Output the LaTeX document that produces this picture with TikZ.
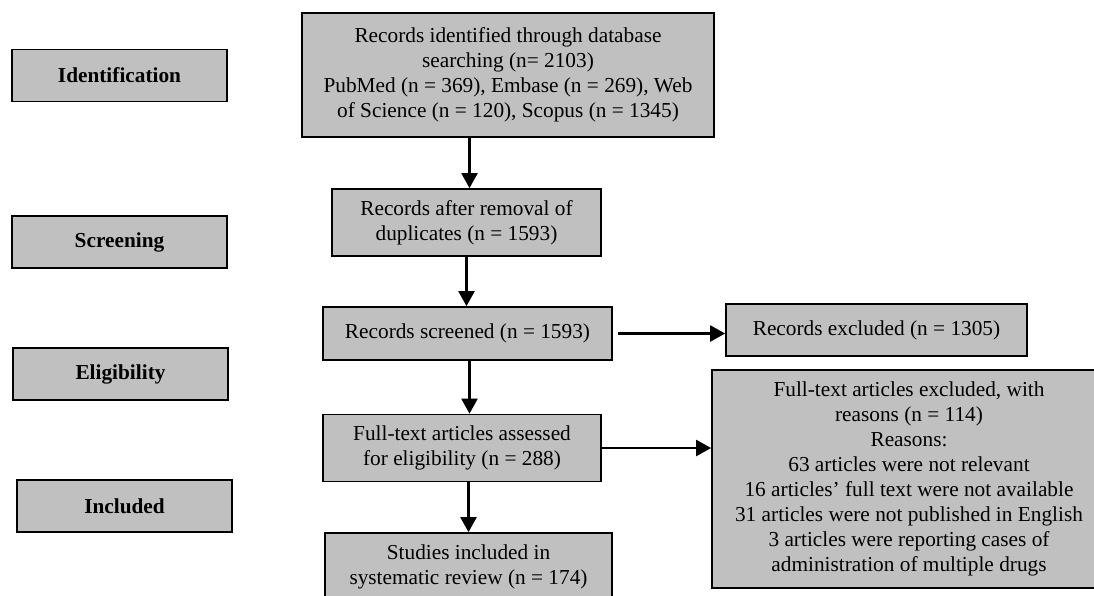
\documentclass[tikz,border=0pt]{standalone}
\usepackage{fontspec}
\setmainfont{Liberation Serif}
\usepackage{tikz}
\usetikzlibrary{arrows.meta,positioning}
\definecolor{boxgray}{RGB}{192,192,192}

\begin{document}
\begin{tikzpicture}[
		x=1pt, y=-1pt,
		font=\fontsize{21.3}{24.9}\selectfont,
		stage/.style={draw, line width=1.7pt, fill=boxgray, minimum width=215pt, minimum height=52pt, font=\fontsize{21.3}{24.9}\selectfont\bfseries},
		record/.style={draw, line width=1.7pt, fill=boxgray, align=center, inner sep=0pt},
		flow/.style={line width=2.2pt, -{Triangle[length=15pt,width=16pt]}}
		]
		\useasboundingbox (0,0) rectangle (1094,595);
		\clip (0,0) rectangle (1094,595);
		
		% Stages on the left
		\node[stage] (identification) at (119.5,75.5) {Identification};
		\node[stage] (screening) at (119.5,242) {Screening};
		\node[stage] (eligibility) at (120.5,374) {Eligibility};
		\node[stage] (included) at (124.5,506) {Included};
		
		% Main flow
		\node[record, minimum width=412pt, minimum height=124pt] (identified) at (508,75)
		{Records identified through database\\searching (n= 2103)\\PubMed (n = 369), Embase (n = 269), Web\\of Science (n = 120), Scopus (n = 1345)};
		\node[record, minimum width=269pt, minimum height=67pt] (duplicates) at (466.5,222.5)
		{Records after removal of\\duplicates (n = 1593)};
		\node[record, minimum width=289pt, minimum height=53pt] (screened) at (467.5,333.5)
		{Records screened (n = 1593)};
		\node[record, minimum width=278pt, minimum height=67pt] (assessed) at (462,448)
		{Full-text articles assessed\\for eligibility (n = 288)};
		\node[record, minimum width=287pt, minimum height=67pt] (studies) at (468.5,566.5)
		{Studies included in\\systematic review (n = 174)};
		
		% Exclusions
		\node[record, minimum width=301pt, minimum height=52pt] (excluded) at (876.5,330)
		{Records excluded (n = 1305)};
		\node[record, minimum width=394pt, minimum height=218pt] (reasons) at (909,479)
		{Full-text articles excluded, with\\reasons (n = 114)\\Reasons:\\63 articles were not relevant\\16 articles’ full text were not available\\31 articles were not published in English\\3 articles were reporting cases of\\administration of multiple drugs};
		
		\draw[flow] ([xshift=3pt]duplicates.north |- identified.south) -- ([xshift=3pt]duplicates.north);
		\draw[flow] (duplicates.south) -- (duplicates.south |- screened.north);
		\draw[flow] ([xshift=2pt]screened.south) -- ([xshift=2pt]screened.south |- assessed.north);
		\draw[flow] (studies.north |- assessed.south) -- (studies.north);
		\draw[flow, shorten <=5pt] (screened.east) -- (screened.east -| excluded.west);
		\draw[flow] (assessed.east) -- (assessed.east -| reasons.west);
\end{tikzpicture}
\end{document}
